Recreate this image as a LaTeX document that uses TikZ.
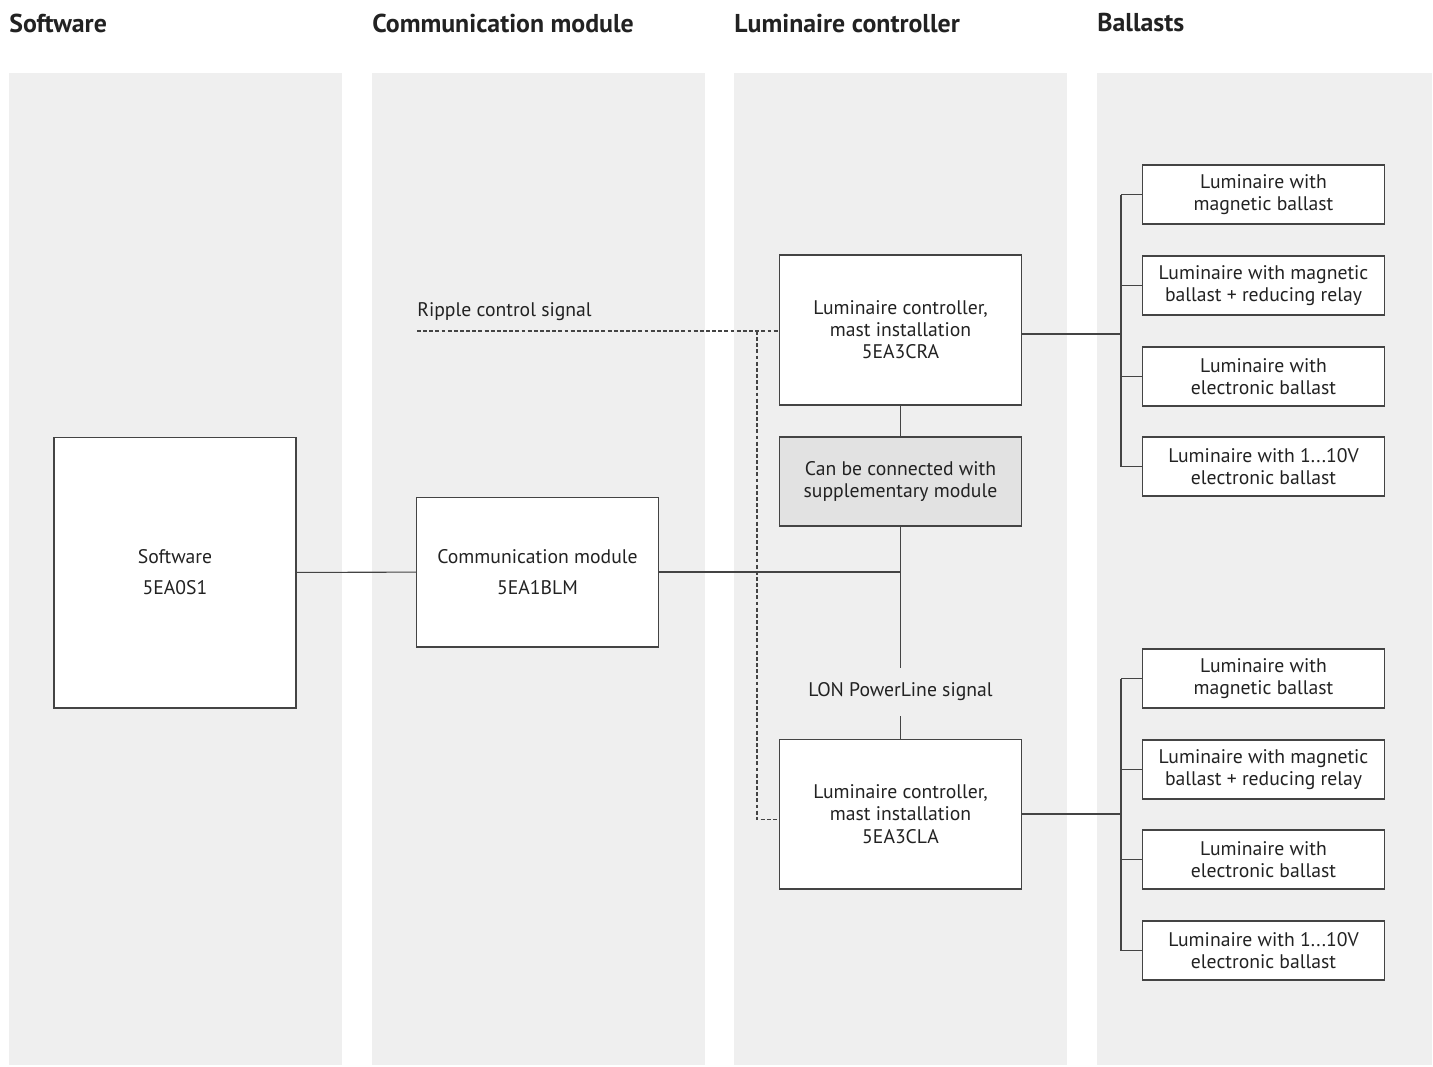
\documentclass[tikz,border=0pt]{standalone}
\usepackage{fontspec}
\setmainfont{PT Sans}
\usepackage{tikz}
\usetikzlibrary{positioning}
\usepackage{xcolor}

\definecolor{lanegray}{HTML}{EFEFEF}
\definecolor{suppgray}{HTML}{E2E2E2}
\definecolor{linegray}{HTML}{444444}
\definecolor{textgray}{HTML}{222222}

\tikzset{
  lane/.style={fill=lanegray, draw=none},
  head/.style={anchor=west, font=\fontsize{14.7}{17}\selectfont\bfseries, text=textgray, inner sep=0pt},
  unit/.style={draw=linegray, fill=white, line width=0.6pt, align=center, text=textgray,
    font=\fontsize{11.2}{12.6}\selectfont, inner sep=0pt},
  ballast/.style={unit, minimum width=4.84cm, minimum height=1.18cm},
  wire/.style={draw=linegray, line width=0.6pt},
  ripple/.style={draw=linegray, line width=0.6pt, dash pattern=on 2.2pt off 1.3pt},
  signal/.style={text=textgray, font=\fontsize{11.2}{12.6}\selectfont, inner sep=0pt}
}

\begin{document}
\begin{tikzpicture}[x=0.02cm, y=-0.02cm]
\useasboundingbox (0,0) rectangle (1433,1066);

% lanes
\fill[lane] (9,73) rectangle (342,1065);
\fill[lane] (372,73) rectangle (705,1065);
\fill[lane] (734,73) rectangle (1067,1065);
\fill[lane] (1097,73) rectangle (1432,1065);

\node[head] (hsw) at (9,23) {Software};
\node[head] (hcomm) at (372,23) {Communication module};
\node[head] (hlc) at (734,23) {Luminaire controller};
\node[head] (hbal) at (1097,23) {Ballasts};

% main units
\node[unit, minimum width=4.84cm, minimum height=5.42cm] (sw) at (175,572.5)
  {Software\\[5pt]5EA0S1};
\node[unit, minimum width=4.84cm, minimum height=3cm] (comm) at (537.5,572)
  {Communication module\\[5pt]5EA1BLM};
\node[unit, minimum width=4.84cm, minimum height=3cm] (cra) at (900.5,330)
  {Luminaire controller,\\mast installation\\5EA3CRA};
\node[unit, fill=suppgray, minimum width=4.84cm, minimum height=1.78cm] (supp) at (900.5,481.5)
  {Can be connected with\\supplementary module};
\node[unit, minimum width=4.84cm, minimum height=3cm] (cla) at (900.5,814)
  {Luminaire controller,\\mast installation\\5EA3CLA};

\node[signal, minimum height=27pt] (lon) at (900.5,692) {LON PowerLine signal};
\coordinate (rip) at (417,331);
\node[signal, anchor=south west] (riplabel) at (417,321) {Ripple control signal};
\coordinate (tap) at (757,331);

% ballasts, upper group
\node[ballast] (ua) at (1263.5,194.5) {Luminaire with\\magnetic ballast};
\node[ballast] (ub) at (1263.5,285.5) {Luminaire with magnetic\\ballast + reducing relay};
\node[ballast] (uc) at (1263.5,376.5) {Luminaire with\\electronic ballast};
\node[ballast] (ud) at (1263.5,466.5) {Luminaire with 1...10V\\electronic ballast};

% ballasts, lower group
\node[ballast] (la) at (1263.5,678.5) {Luminaire with\\magnetic ballast};
\node[ballast] (lb) at (1263.5,769.5) {Luminaire with magnetic\\ballast + reducing relay};
\node[ballast] (lc) at (1263.5,859.5) {Luminaire with\\electronic ballast};
\node[ballast] (ld) at (1263.5,950.5) {Luminaire with 1...10V\\electronic ballast};

\coordinate (ubus) at (1121,334);
\coordinate (lbus) at (1121,814);

% wiring
\draw[wire] (sw) -- (comm);
\draw[wire] (comm.east) -- (comm.east -| supp.south);
\draw[wire] (cra) -- (supp);
\draw[wire] (supp.south) -- (lon.north);
\draw[wire] (lon.south) -- (cla.north);

\draw[wire] (cra.east |- ubus) -- (ubus);
\draw[wire] (ubus |- ua.west) -- (ubus |- ud.west);
\foreach \b in {ua,ub,uc,ud}
  \draw[wire] (ubus |- \b.west) -- (\b.west);

\draw[wire] (cla.east) -- (lbus);
\draw[wire] (lbus |- la.west) -- (lbus |- ld.west);
\foreach \b in {la,lb,lc,ld}
  \draw[wire] (lbus |- \b.west) -- (\b.west);

\draw[ripple] (rip) -- (rip -| cra.west);
\draw[ripple] (tap) |- ([yshift=-3pt]cla.west);

\end{tikzpicture}
\end{document}
